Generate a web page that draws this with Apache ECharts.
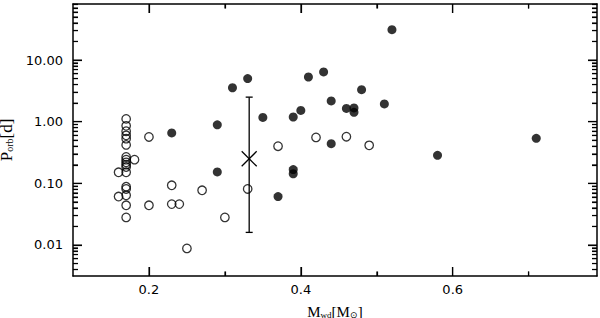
<!DOCTYPE html>
<html>
<head>
<meta charset="utf-8">
<script src="https://cdn.jsdelivr.net/npm/echarts@6/dist/echarts.min.js"></script>
<style>html,body{margin:0;padding:0;background:#fff}#c{width:600px;height:318px}</style>
</head>
<body>
<div id="c"></div>
<script>
// Open circles (M_wd, P_orb)
const openX = [0.17,0.17,0.17,0.17,0.17,0.17,0.17,0.17,0.17,0.17,0.17,0.17,0.17,0.17,0.17,0.17,0.17,
  0.16,0.16,0.181,0.20,0.23,0.20,0.23,0.24,0.27,0.25,0.30,0.33,0.37,0.42,0.46,0.49];
const openY = [1.11,0.855,0.70,0.60,0.53,0.42,0.268,0.242,0.219,0.201,0.184,0.151,0.088,0.081,0.064,0.044,0.028,
  0.151,0.061,0.242,0.565,0.093,0.044,0.046,0.046,0.077,0.0088,0.028,0.081,0.40,0.556,0.571,0.413];
// Filled circles
const filledX = [0.23,0.29,0.29,0.31,0.33,0.35,0.37,0.39,0.40,0.39,0.39,0.41,0.43,0.44,0.44,0.46,0.47,0.47,0.48,0.51,0.52,0.58,0.71];
const filledY = [0.656,0.89,0.153,3.55,5.0,1.17,0.061,1.19,1.52,0.167,0.143,5.3,6.4,2.17,0.44,1.64,1.67,1.42,3.3,1.94,31,0.285,0.537];
// Mean with range
const meanX = [0.332];
const meanY = [0.25];
const meanLo = [0.016];
const meanHi = [2.5];

// Axis limits and tick values
const X_MIN = 0.1, X_MAX = 0.79, Y_MIN = 0.00314, Y_MAX = 81;
const xMajor = [0.2, 0.4, 0.6];
const xMinor = [0.3, 0.5, 0.7];
const yMajor = [0.01, 0.1, 1, 10];
const yMinor = [];
[0.001, 0.01, 0.1, 1, 10].forEach(d => { for (let k = 2; k <= 9; k++) yMinor.push(+(d * k).toPrecision(3)); });
const yMinorIn = yMinor.filter(v => v > Y_MIN && v < Y_MAX);

const chart = echarts.init(document.getElementById('c'), null, {renderer: 'svg'});
const frame = {color: '#000', width: 1.5};
const serif = 'Liberation Serif';
const tickLine = {color: '#000', width: 1.2};

function xAx(pos, opts) {
  return Object.assign({
    type: 'value', position: pos, min: X_MIN, max: X_MAX,
    axisLine: {show: false, lineStyle: frame},
    axisTick: {show: false}, axisLabel: {show: false}, splitLine: {show: false}
  }, opts || {});
}
function yAx(pos, opts) {
  return Object.assign({
    type: 'log', logBase: 10, position: pos, min: Y_MIN, max: Y_MAX,
    axisLine: {show: false, lineStyle: frame},
    axisTick: {show: false}, axisLabel: {show: false}, splitLine: {show: false}
  }, opts || {});
}
function seg(x1, y1, x2, y2) {
  return {type: 'line', shape: {x1: x1, y1: y1, x2: x2, y2: y2}, style: {stroke: '#000', lineWidth: 1.3}};
}
function tickSeries(data, w, h, off) {
  return {
    type: 'scatter', clip: false, silent: true, z: 6,
    data: data, symbol: 'rect', symbolSize: [w, h], symbolOffset: off,
    itemStyle: {color: '#000'}
  };
}

chart.setOption({
  animation: false,
  backgroundColor: '#fff',
  title: {text: ''},
  grid: {left: 73, right: 3, top: 4, bottom: 42, containLabel: false, outerBoundsMode: 'none'},
  xAxis: [
    xAx('bottom', {
      axisLine: {show: true, lineStyle: frame},
      axisLabel: {show: true, customValues: xMajor, margin: 7, color: '#000', fontFamily: 'DejaVu Sans', fontSize: 13,
        formatter: v => (+v).toFixed(1)},
      name: '{a|M}{s|wd}{a|[M}{s|⊙}{a|]}', nameLocation: 'middle', nameGap: 23,
      nameTextStyle: {rich: {
        a: {fontFamily: serif, fontSize: 15, color: '#000', lineHeight: 20, verticalAlign: 'bottom'},
        s: {fontFamily: serif, fontSize: 9, color: '#000', lineHeight: 20, verticalAlign: 'bottom'}
      }}
    }),
    xAx('top', {axisLine: {show: true, lineStyle: frame},
      axisTick: {show: true, inside: true, length: 9, customValues: xMajor, lineStyle: tickLine}}),
    xAx('top', {axisTick: {show: true, inside: true, length: 4.5, customValues: xMinor, lineStyle: tickLine}}),
    xAx('bottom', {axisTick: {show: true, inside: true, length: 9, customValues: xMajor, lineStyle: tickLine}}),
    xAx('bottom', {axisTick: {show: true, inside: true, length: 4.5, customValues: xMinor, lineStyle: tickLine}})
  ],
  yAxis: [
    yAx('left', {
      axisLine: {show: true, lineStyle: frame},
      axisLabel: {show: true, customValues: yMajor, margin: 10, color: '#000', fontFamily: 'DejaVu Sans', fontSize: 13,
        formatter: v => (+v).toFixed(2)},
      name: '{a|P}{s|orb}{a|[d]}', nameLocation: 'middle', nameGap: 47, nameRotate: 90,
      nameTextStyle: {rich: {
        a: {fontFamily: serif, fontSize: 17, color: '#000', lineHeight: 22, verticalAlign: 'bottom'},
        s: {fontFamily: serif, fontSize: 10, color: '#000', lineHeight: 22, verticalAlign: 'bottom'}
      }}
    }),
    yAx('right', {axisLine: {show: true, lineStyle: frame},
      axisTick: {show: true, inside: true, length: 9, customValues: yMajor, lineStyle: tickLine}}),
    yAx('right', {axisTick: {show: true, inside: true, length: 5, customValues: yMinorIn, lineStyle: tickLine}}),
    yAx('left', {axisTick: {show: true, inside: true, length: 9, customValues: yMajor, lineStyle: tickLine}}),
    yAx('left', {axisTick: {show: true, inside: true, length: 5, customValues: yMinorIn, lineStyle: tickLine}})
  ],
  series: [
    {
      type: 'scatter',
      data: openX.map((x, i) => [x, openY[i]]),
      symbol: 'circle', symbolSize: 8.5,
      itemStyle: {color: 'rgba(0,0,0,0)', borderColor: '#000', borderWidth: 1.3}
    },
    {
      type: 'scatter',
      data: filledX.map((x, i) => [x, filledY[i]]),
      symbol: 'circle', symbolSize: 9,
      itemStyle: {color: '#000'}
    },
    {
      type: 'custom',
      data: meanX.map((x, i) => [x, meanY[i], meanLo[i], meanHi[i]]),
      encode: {x: 0, y: 1},
      renderItem: function (params, api) {
        const x = api.value(0), y = api.value(1), lo = api.value(2), hi = api.value(3);
        const p = api.coord([x, y]);
        const pl = api.coord([x, lo]);
        const ph = api.coord([x, hi]);
        const c = 3.5, k = 7.5;
        return {type: 'group', children: [
          seg(pl[0], pl[1], ph[0], ph[1]),
          seg(pl[0] - c, pl[1], pl[0] + c, pl[1]),
          seg(ph[0] - c, ph[1], ph[0] + c, ph[1]),
          seg(p[0] - k, p[1] - k, p[0] + k, p[1] + k),
          seg(p[0] - k, p[1] + k, p[0] + k, p[1] - k)
        ]};
      }
    },
    tickSeries(xMajor.map(v => [v, Y_MIN]), 1.2, 9, [0, -4.5]),
    tickSeries(xMinor.map(v => [v, Y_MIN]), 1.2, 4.5, [0, -2.25]),
    tickSeries(xMajor.map(v => [v, Y_MAX]), 1.2, 9, [0, 4.5]),
    tickSeries(xMinor.map(v => [v, Y_MAX]), 1.2, 4.5, [0, 2.25]),
    tickSeries(yMajor.map(v => [X_MIN, v]), 9, 1.2, [4.5, 0]),
    tickSeries(yMinorIn.map(v => [X_MIN, v]), 5, 1.1, [2.5, 0]),
    tickSeries(yMajor.map(v => [X_MAX, v]), 9, 1.2, [-4.5, 0]),
    tickSeries(yMinorIn.map(v => [X_MAX, v]), 5, 1.1, [-2.5, 0])
  ]
});
</script>
</body>
</html>
